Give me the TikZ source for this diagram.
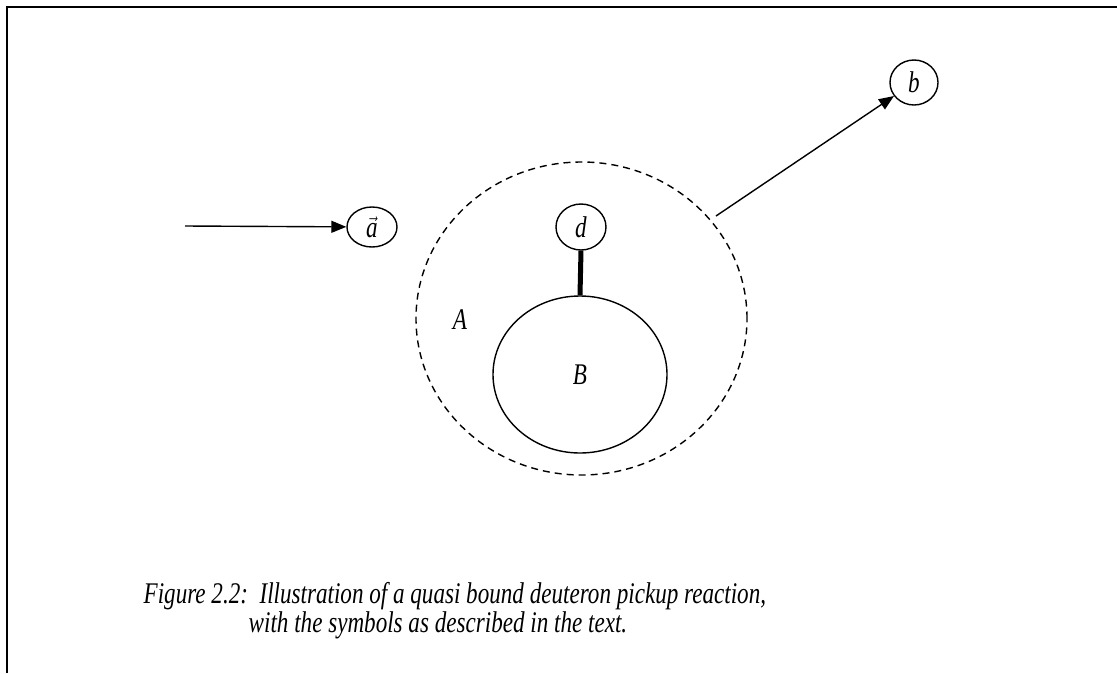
\documentclass[tikz,border=0pt]{standalone}
\usepackage{fontspec}
\setmainfont{Liberation Serif}
\usetikzlibrary{shapes.geometric,arrows.meta}
\newcommand{\narrowtext}[1]{\scalebox{0.77}[1]{#1}}
\begin{document}
\begin{tikzpicture}[x=1pt,y=-1pt,
  line width=1.4pt,
  every node/.style={font=\fontsize{30}{36}\selectfont\itshape},
  particle/.style={draw,ellipse,inner sep=0pt},
  label/.style={inner sep=0pt},
  arrowline/.style={-{Triangle[length=15pt,width=12pt]}},
  caption/.style={anchor=base west,inner sep=0pt}]
\useasboundingbox (0,0) rectangle (1117,673);
% frame: top and left edges
\draw[line width=2.2pt] (7,673) -- (7,7) -- (1117,7);

% nucleus A (dashed) and core B
\node[particle,dashed,dash pattern=on 7pt off 5pt,minimum width=331pt,minimum height=313pt] (outer) at (581.5,318.5) {};
\node[particle,minimum width=174pt,minimum height=157pt] (core) at (580,374.5) {\narrowtext{B}};
\node[label] (labA) at (460,320) {\narrowtext{A}};

% bound deuteron
\node[particle,minimum width=50pt,minimum height=46pt] (deut) at (581,227) {\narrowtext{d}};
\draw[line width=5pt] (deut.south) -- (core.north);

% incoming projectile
\node[particle,minimum width=50pt,minimum height=40pt] (proj) at (372,227) {\narrowtext{$\vec{\hbox{\itshape a}}$}};
\coordinate (inStart) at (185,226);
\draw[arrowline] (inStart) -- (proj);

% outgoing ejectile
\node[particle,minimum width=48pt,minimum height=45pt] (ejec) at (914,82.5) {\narrowtext{b}};
\coordinate (exit) at (716,216);
\draw[arrowline] (exit) -- (ejec);

% caption
\node[caption] (cap1) at (143,603) {\narrowtext{Figure 2.2:\ \ Illustration of a quasi bound deuteron pickup reaction,}};
\node[caption] (cap2) at (248,632) {\narrowtext{with the symbols as described in the text.}};
\end{tikzpicture}
\end{document}
